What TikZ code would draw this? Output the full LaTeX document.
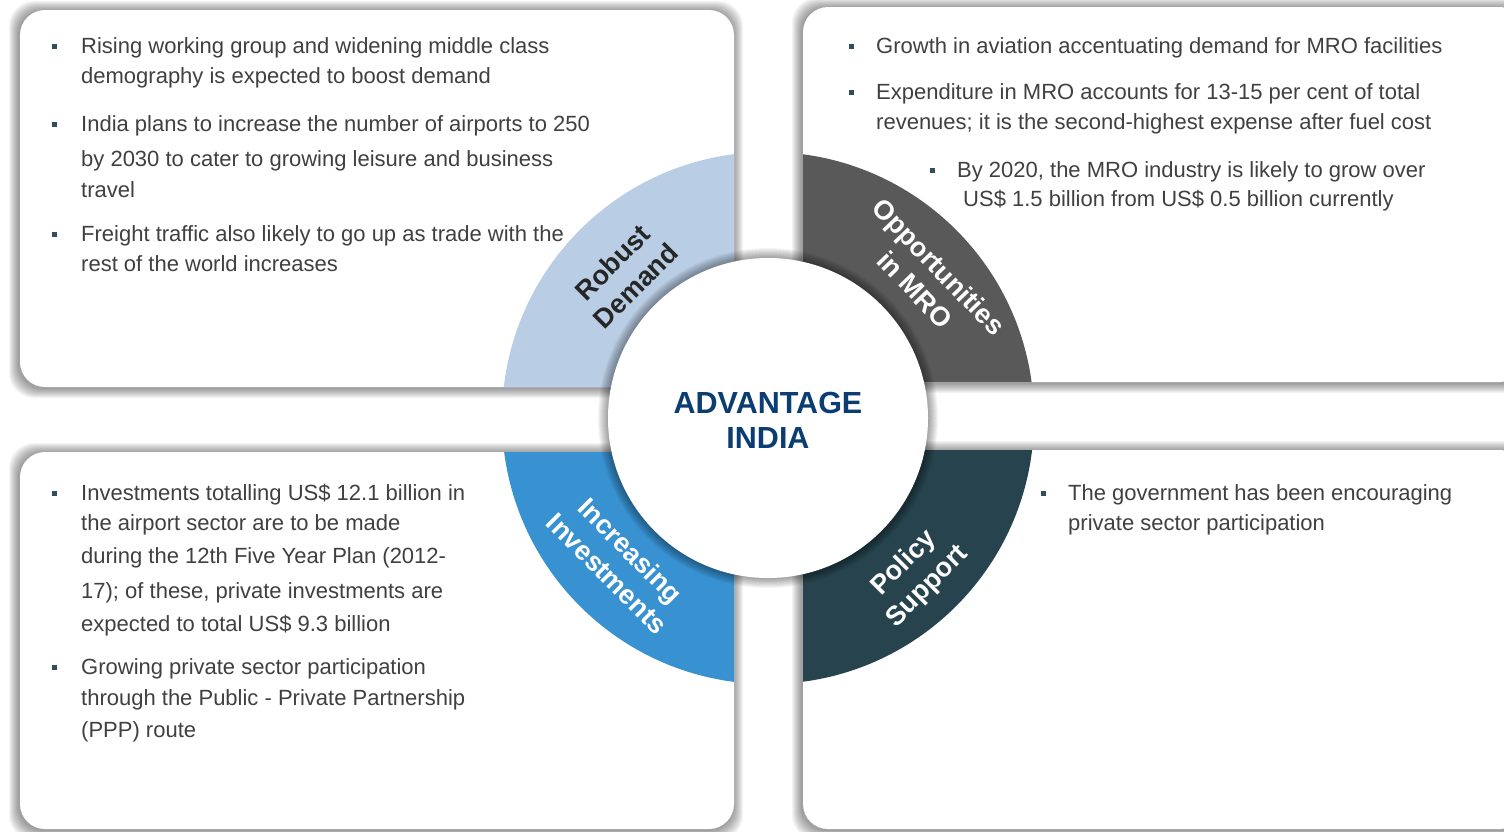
\documentclass[tikz,border=0pt]{standalone}
\usepackage{fontspec}
\setmainfont{Liberation Sans}
\definecolor{txt}{HTML}{404040}
\definecolor{bul}{HTML}{2E4F5B}
\definecolor{secA}{HTML}{B9CDE4}
\definecolor{secB}{HTML}{595959}
\definecolor{secC}{HTML}{3891D0}
\definecolor{secD}{HTML}{27444E}
\definecolor{titleblue}{HTML}{0B3D73}
\definecolor{darklbl}{HTML}{262626}
% soft grey halo behind a rounded panel: x1,y1,x2,y2
\newcommand\panelglow[4]{%
  \foreach \k in {10,9,...,1}{%
    \fill[black,opacity=0.045,rounded corners=25pt]
      (#1-\k-1,#2-\k+1) rectangle (#3+\k-1,#4+\k+1);}%
  \fill[white,rounded corners=25pt] (#1,#2) rectangle (#3,#4);}
% quarter of the ring, kept inside its panel
\newcommand\ringpart[5]{%
  \begin{scope}
    \clip[rounded corners=25pt] (#1,#2) rectangle (#3,#4);
    \fill[#5] (768,418) circle (266);
  \end{scope}}
\begin{document}
\begin{tikzpicture}[x=1pt,y=-1pt,
  body/.style={font=\fontsize{22}{26}\selectfont, text=txt, anchor=base west, inner sep=0pt},
  bsq/.style={fill=bul, minimum size=5pt, inner sep=0pt, outer sep=0pt},
  lbl/.style={font=\bfseries\fontsize{27}{33}\selectfont, text=white, align=center, inner sep=0pt},
  ttl/.style={font=\bfseries\fontsize{30.5}{35}\selectfont, text=titleblue, anchor=base, inner sep=0pt}]
\useasboundingbox (0,0) rectangle (1504,831);
\clip (0,0) rectangle (1504,831);
\fill[white] (0,0) rectangle (1504,831);

% panels
\panelglow{20}{10}{734}{387}
\panelglow{803}{7}{1525}{382}
\panelglow{20}{452}{734}{829}
\panelglow{803}{450}{1525}{829}

% ring quarters
\ringpart{20}{10}{734}{387}{secA}
\ringpart{803}{7}{1525}{382}{secB}
\ringpart{20}{452}{734}{829}{secC}
\ringpart{803}{450}{1525}{829}{secD}

% central disc with its halo
\foreach \k in {10,9,...,1}{\fill[black,opacity=0.04] (768,418) circle (160+\k);}
\node[circle, fill=white, minimum size=320pt, inner sep=0pt] (hub) at (768,418) {};
\node[ttl] (adv) at (768,413) {ADVANTAGE};
\node[ttl] (ind) at (768,448) {INDIA};

% ring labels
\node[lbl, text=darklbl, rotate=45] (rd) at (624,274) {Robust\\Demand};
\node[lbl, rotate=-46] (mro) at (927,278) {Opportunities\\in MRO};
\node[lbl, rotate=-45] (inv) at (619,562) {Increasing\\Investments};
\node[lbl, rotate=45] (pol) at (916,575) {Policy\\Support};

% top-left panel text
\node[bsq] (ba1) at (54,46) {};
\node[body] (a1) at (81,53) {Rising working group and widening middle class};
\node[body] (a2) at (81,83) {demography is expected to boost demand};
\node[bsq] (ba2) at (54,124) {};
\node[body] (a3) at (81,131) {India plans to increase the number of airports to 250};
\node[body] (a4) at (81,166) {by 2030 to cater to growing leisure and business};
\node[body] (a5) at (81,197) {travel};
\node[bsq] (ba3) at (54,234) {};
\node[body] (a6) at (81,241) {Freight traffic also likely to go up as trade with the};
\node[body] (a7) at (81,271) {rest of the world increases};

% top-right panel text
\node[bsq] (bb1) at (851,46) {};
\node[body] (b1) at (876,53) {Growth in aviation accentuating demand for MRO facilities};
\node[bsq] (bb2) at (851,92) {};
\node[body] (b2) at (876,99) {Expenditure in MRO accounts for 13-15 per cent of total};
\node[body] (b3) at (876,129) {revenues; it is the second-highest expense after fuel cost};
\node[bsq] (bb3) at (932,170) {};
\node[body] (b4) at (957,177) {By 2020, the MRO industry is likely to grow over};
\node[body] (b5) at (963,206) {US\$ 1.5 billion from US\$ 0.5 billion currently};

% bottom-left panel text
\node[bsq] (bc1) at (54,493) {};
\node[body] (c1) at (81,500) {Investments totalling US\$ 12.1 billion in};
\node[body] (c2) at (81,530) {the airport sector are to be made};
\node[body] (c3) at (81,563) {during the 12th Five Year Plan (2012-};
\node[body] (c4) at (81,598) {17); of these, private investments are};
\node[body] (c5) at (81,631) {expected to total US\$ 9.3 billion};
\node[bsq] (bc2) at (54,667) {};
\node[body] (c6) at (81,674) {Growing private sector participation};
\node[body] (c7) at (81,705) {through the Public - Private Partnership};
\node[body] (c8) at (81,737) {(PPP) route};

% bottom-right panel text
\node[bsq] (bd1) at (1043,493) {};
\node[body] (d1) at (1068,500) {The government has been encouraging};
\node[body] (d2) at (1068,530) {private sector participation};
\end{tikzpicture}
\end{document}
